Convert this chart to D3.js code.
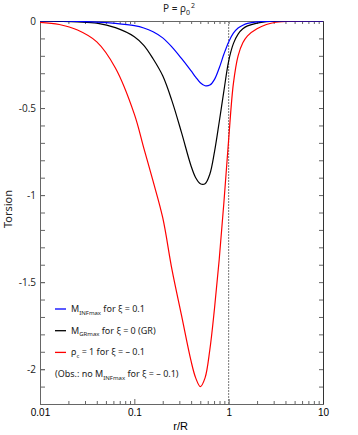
<!DOCTYPE html>
<html>
<head>
<meta charset="utf-8">
<script src="https://cdn.jsdelivr.net/npm/d3@7"></script>
<style>
  body { margin: 0; background: #fff; }
  svg { display: block; }
</style>
</head>
<body>
<div id="chart"></div>
<script>
// r/R sample points and torsion
var rVals = [0.01, 0.016, 0.025, 0.04, 0.063, 0.1, 0.126, 0.158, 0.2, 0.251, 0.316, 0.398, 0.447, 0.501, 0.562, 0.631, 0.708, 0.794, 0.891, 1.0, 1.122, 1.259, 1.413, 1.585, 1.995, 2.512, 3.162, 5.012, 10];
var blueT  = [0, 0, -0.002, -0.006, -0.014, -0.027, -0.04, -0.062, -0.097, -0.15, -0.215, -0.285, -0.322, -0.355, -0.372, -0.368, -0.335, -0.27, -0.19, -0.12, -0.07, -0.04, -0.024, -0.014, -0.005, -0.002, 0, 0, 0];
var blackT = [0, -0.002, -0.005, -0.012, -0.038, -0.09, -0.14, -0.217, -0.315, -0.46, -0.64, -0.83, -0.9, -0.935, -0.935, -0.88, -0.75, -0.58, -0.4, -0.23, -0.13, -0.075, -0.045, -0.028, -0.012, -0.004, -0.001, 0, 0];
var redT   = [-0.008, -0.02, -0.052, -0.12, -0.27, -0.535, -0.73, -0.92, -1.13, -1.43, -1.69, -1.95, -2.05, -2.1, -2.05, -1.89, -1.65, -1.37, -1.04, -0.68, -0.36, -0.2, -0.125, -0.085, -0.045, -0.02, -0.007, -0.001, 0];

var xMajor = [0.01, 0.1, 1, 10];
var yMajor = [0, -0.5, -1, -1.5, -2];
var seriesColors = ["#0000ff", "#000000", "#ff0000"];

var W = 358, H = 435;
var margin = {top: 21, right: 35, bottom: 31, left: 40};
var width = W - margin.left - margin.right,
    height = H - margin.top - margin.bottom;

var x = d3.scaleLog().domain([0.01, 10]).range([0, width]);
var y = d3.scaleLinear().domain([-2.2, 0]).range([height, 0]);

var xMinor = [];
[0.01, 0.1, 1].forEach(function(d) {
  for (var k = 2; k <= 9; k++) xMinor.push(d * k);
});
var yMinor = d3.range(0, 23).map(function(i) { return -i / 10; });

var svg = d3.select("#chart").append("svg")
    .attr("width", W)
    .attr("height", H);

svg.append("defs").append("clipPath")
    .attr("id", "clip")
  .append("rect")
    .attr("width", width)
    .attr("height", height);

var g = svg.append("g")
    .attr("transform", "translate(" + margin.left + "," + margin.top + ")");

// bottom axis: minor then major ticks, all pointing inward
g.append("g")
    .attr("class", "x axis minor")
    .attr("transform", "translate(0," + height + ")")
    .call(d3.axisBottom(x).tickValues(xMinor).tickSizeInner(-3).tickSizeOuter(0).tickFormat(""));
g.append("g")
    .attr("class", "x axis major")
    .attr("transform", "translate(0," + height + ")")
    .call(d3.axisBottom(x).tickValues(xMajor).tickSizeInner(-5).tickSizeOuter(0).tickPadding(5)
      .tickFormat(function(d) { return String(d); }));

// top axis ticks
g.append("g")
    .attr("class", "x axis top")
    .call(d3.axisTop(x).tickValues(xMinor.concat(xMajor)).tickSizeInner(-3).tickSizeOuter(0).tickFormat(""));

// left axis
g.append("g")
    .attr("class", "y axis left")
    .call(d3.axisLeft(y).tickValues(yMinor).tickSizeInner(-5).tickSizeOuter(0).tickFormat(""));
g.append("g")
    .attr("class", "y axis leftlabels")
    .call(d3.axisLeft(y).tickValues(yMajor).tickSizeInner(-5).tickSizeOuter(0).tickPadding(4)
      .tickFormat(function(d) { return d === 0 ? "0" : String(d); }));

// right axis
g.append("g")
    .attr("class", "y axis right")
    .attr("transform", "translate(" + width + ",0)")
    .call(d3.axisRight(y).tickValues(yMinor).tickSizeInner(-4).tickSizeOuter(0).tickFormat(""));

g.selectAll(".axis path").attr("stroke", "#666");
g.selectAll(".axis .tick line").attr("stroke", "#666");
g.selectAll(".y.axis.right path").attr("stroke", "#333");
g.selectAll(".x.axis.major text")
    .attr("font-family", "Liberation Sans, Arial, sans-serif")
    .attr("font-size", 10)
    .attr("fill", "#000");
g.selectAll(".y.axis.leftlabels text")
    .attr("font-family", "Open Sans, sans-serif")
    .attr("font-size", 10)
    .attr("fill", "#222");

// dashed line at r = R
g.append("line")
    .attr("x1", x(1)).attr("x2", x(1))
    .attr("y1", 0).attr("y2", height)
    .attr("stroke", "#777")
    .attr("stroke-width", 1)
    .attr("stroke-dasharray", "2,1");

var line = d3.line()
    .x(function(d) { return x(d.r); })
    .y(function(d) { return y(d.t); })
    .curve(d3.curveCatmullRom.alpha(0.5));

var series = [blueT, blackT, redT].map(function(vals, i) {
  return {color: seriesColors[i], values: rVals.map(function(r, j) { return {r: r, t: vals[j]}; })};
});

// red first so blue sits on top at zero
g.append("g").attr("clip-path", "url(#clip)")
  .selectAll("path")
  .data(series.slice().reverse())
  .enter().append("path")
    .attr("d", function(d) { return line(d.values); })
    .attr("fill", "none")
    .attr("stroke", function(d) { return d.color; })
    .attr("stroke-width", 1.2);

// legend
var legend = g.append("g")
    .attr("font-family", "Noto Sans, sans-serif")
    .attr("font-size", 9)
    .attr("fill", "#222");

var legendRows = [
  {color: seriesColors[0], parts: [["M", 0], ["INFmax", 1], [" for \u03be = 0.1", 0]]},
  {color: seriesColors[1], parts: [["M", 0], ["GRmax", 1], [" for \u03be = 0 (GR)", 0]]},
  {color: seriesColors[2], parts: [["\u03c1", 0], ["c", 1], [" = 1 for \u03be = \u2013 0.1", 0]]}
];

function addParts(textSel, parts) {
  parts.forEach(function(p, i) {
    var prev = i > 0 ? parts[i - 1][1] : 0;
    var dy = (p[1] ? 2.5 : 0) - (prev ? 2.5 : 0);
    textSel.append("tspan")
      .attr("dy", dy)
      .attr("font-size", p[1] ? 6 : 9)
      .text(p[0]);
  });
}

legendRows.forEach(function(row, i) {
  var ly = 288 + i * 21.7;
  legend.append("line")
      .attr("x1", 15).attr("x2", 26)
      .attr("y1", ly).attr("y2", ly)
      .attr("stroke", row.color)
      .attr("stroke-width", 1.3);
  var t = legend.append("text")
      .attr("x", 31)
      .attr("y", ly + 3);
  addParts(t, row.parts);
});

var obs = legend.append("text")
    .attr("x", 15)
    .attr("y", 288 + 3 * 21.7 + 3);
addParts(obs, [["(Obs.: no M", 0], ["INFmax", 1], [" for \u03be = \u2013 0.1)", 0]]);

// title
var title = svg.append("text")
    .attr("x", 163)
    .attr("y", 12)
    .attr("font-family", "Noto Sans, sans-serif")
    .attr("font-size", 10)
    .attr("fill", "#222");
title.append("tspan").text("P = \u03c1");
title.append("tspan").attr("dy", 2.5).attr("font-size", 7).text("0");
title.append("tspan").attr("dy", -7).attr("dx", 1).attr("font-size", 7).text("2");

// axis titles
svg.append("text")
    .attr("x", margin.left + x(1) - 48)
    .attr("y", 430)
    .attr("text-anchor", "middle")
    .attr("font-family", "Liberation Sans, Arial, sans-serif")
    .attr("font-size", 11)
    .attr("fill", "#000")
    .text("r/R");

svg.append("text")
    .attr("transform", "translate(12,209) rotate(-90)")
    .attr("text-anchor", "middle")
    .attr("font-family", "Noto Sans, sans-serif")
    .attr("font-size", 11)
    .attr("fill", "#222")
    .text("Torsion");
</script>
</body>
</html>
